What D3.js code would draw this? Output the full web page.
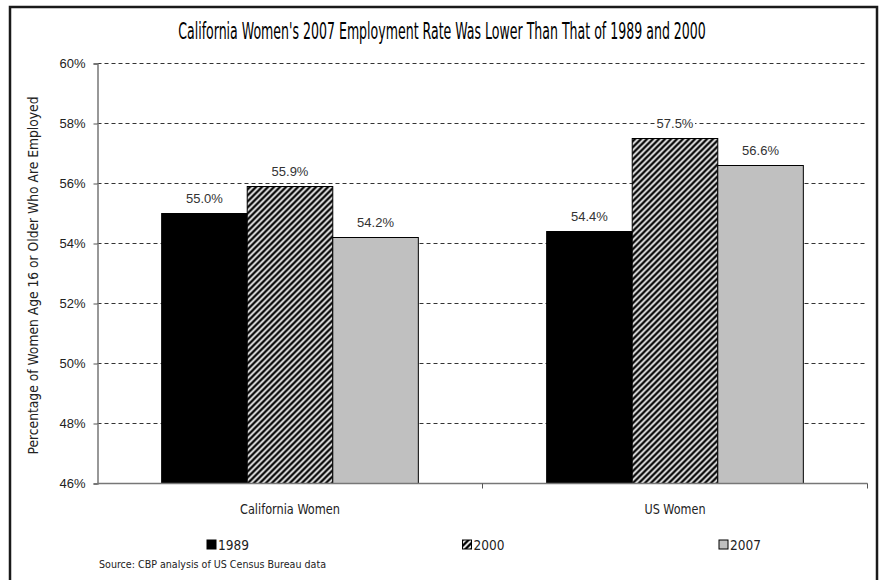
<!DOCTYPE html>
<html>
<head>
<meta charset="utf-8">
<script src="https://cdn.jsdelivr.net/npm/d3@7"></script>
<style>
  html, body { margin: 0; padding: 0; background: #fff; }
  svg { display: block; }
  text { font-family: "Liberation Sans", Arial, sans-serif; fill: #222; }
  text.narrow { font-family: "Liberation Sans Narrow", "DejaVu Sans Condensed", "Liberation Sans", Arial, sans-serif; }
</style>
</head>
<body>
<svg id="chart" width="881" height="580"></svg>
<script>
// Employment rate of women age 16+, by area and year
const categories = ["California Women", "US Women"];
const years = ["1989", "2000", "2007"];
const values1989 = [55.0, 54.4];
const values2000 = [55.9, 57.5];
const values2007 = [54.2, 56.6];
const yTicks = [46, 48, 50, 52, 54, 56, 58, 60];

const titleText = "California Women's 2007 Employment Rate Was Lower Than That of 1989 and 2000";
const yTitleText = "Percentage of Women Age 16 or Older Who Are Employed";
const sourceText = "Source: CBP analysis of US Census Bureau data";

const seriesByYear = { "1989": values1989, "2000": values2000, "2007": values2007 };

const svg = d3.select("#chart");
const margin = { left: 97.5, right: 13.5, top: 63.5, bottom: 96.5 };
const W = 881, H = 580;
const plotW = W - margin.left - margin.right;
const plotH = H - margin.top - margin.bottom;

// patterns
const defs = svg.append("defs");
const hatch = defs.append("pattern")
  .attr("id", "hatch")
  .attr("patternUnits", "userSpaceOnUse")
  .attr("width", 6).attr("height", 6);
hatch.append("rect").attr("width", 6).attr("height", 6).attr("fill", "#fff");
hatch.append("path")
  .attr("d", "M0,6 L6,0 M-1,1 L1,-1 M5,7 L7,5")
  .attr("stroke", "#000").attr("stroke-width", 2.4);

const fills = { "1989": "#000", "2000": "url(#hatch)", "2007": "#c0c0c0" };

// outer frame
svg.append("rect")
  .attr("x", 10).attr("y", 7).attr("width", 867).attr("height", 620)
  .attr("fill", "none").attr("stroke", "#1a1a1a").attr("stroke-width", 2.5);

// title: condensed face, scaled horizontally to its target width
const titleG = svg.append("g").attr("transform", "translate(442,39)");
const title = titleG.append("text")
  .attr("class", "narrow")
  .attr("text-anchor", "middle")
  .attr("font-size", 23)
  .style("fill", "#000")
  .text(titleText);
const natural = title.node().getComputedTextLength();
title.attr("transform", `scale(${528 / natural},1)`);

const g = svg.append("g").attr("transform", `translate(${margin.left},${margin.top})`);

const y = d3.scaleLinear().domain([46, 60]).range([plotH, 0]);
const x0 = d3.scaleBand().domain(categories).range([0, plotW]).padding(0);
const x1 = d3.scaleBand().domain(years).range([0, x0.bandwidth()]).paddingInner(0).paddingOuter(0.75);

// dashed gridlines
g.append("g")
  .selectAll("line")
  .data(yTicks.filter(d => d !== 46))
  .join("line")
  .attr("x1", 0).attr("x2", plotW)
  .attr("y1", d => y(d)).attr("y2", d => y(d))
  .attr("stroke", "#333").attr("stroke-width", 1)
  .attr("stroke-dasharray", "4,3");

// bars
const groups = g.selectAll("g.cat")
  .data(categories)
  .join("g")
  .attr("class", "cat")
  .attr("transform", d => `translate(${x0(d)},0)`);

const barData = (c, i) => years.map(yr => ({ year: yr, value: seriesByYear[yr][i] }));

groups.each(function(c, i) {
  const grp = d3.select(this);
  const data = barData(c, i);
  grp.selectAll("rect.bar")
    .data(data)
    .join("rect")
    .attr("class", "bar")
    .attr("x", d => x1(d.year))
    .attr("y", d => y(d.value))
    .attr("width", x1.bandwidth())
    .attr("height", d => plotH - y(d.value))
    .attr("fill", d => fills[d.year])
    .attr("stroke", "#000").attr("stroke-width", 1);

  const lab = grp.selectAll("g.lab")
    .data(data)
    .join("g")
    .attr("class", "lab")
    .attr("transform", d => `translate(${x1(d.year) + x1.bandwidth() / 2},${y(d.value) - 11})`);
  lab.append("rect")
    .attr("x", -20).attr("y", -12).attr("width", 40).attr("height", 15)
    .attr("fill", "#fff");
  lab.append("text")
    .attr("text-anchor", "middle")
    .attr("font-size", 13)
    .style("fill", "#333")
    .text(d => d.value.toFixed(1) + "%");
});

// y axis
const yAxis = g.append("g")
  .call(d3.axisLeft(y).tickValues(yTicks).tickSize(4).tickPadding(8).tickFormat(d => d + "%"));
yAxis.select(".domain").attr("stroke", "#777").attr("stroke-width", 1.5);
yAxis.selectAll(".tick line").attr("stroke", "#555");
yAxis.selectAll(".tick text")
  .attr("font-size", 13)
  .style("font-family", '"Liberation Sans", Arial, sans-serif')
  .style("fill", "#222");

// x axis: baseline with ticks at category boundaries
const xAxis = g.append("g").attr("transform", `translate(0,${plotH})`);
xAxis.append("line")
  .attr("x1", 0).attr("x2", plotW)
  .attr("stroke", "#777").attr("stroke-width", 1.5);
const bounds = categories.map(c => x0(c)).concat([plotW]).slice(1);
xAxis.selectAll("line.tick")
  .data(bounds)
  .join("line")
  .attr("class", "tick")
  .attr("x1", d => d).attr("x2", d => d)
  .attr("y1", 0).attr("y2", 5)
  .attr("stroke", "#555").attr("stroke-width", 1);
xAxis.selectAll("text.cat")
  .data(categories)
  .join("text")
  .attr("class", "cat narrow")
  .attr("x", d => x0(d) + x0.bandwidth() / 2)
  .attr("y", 30)
  .attr("text-anchor", "middle")
  .attr("font-size", 14)
  .attr("textLength", d => d === "US Women" ? 61 : 100)
  .attr("lengthAdjust", "spacingAndGlyphs")
  .text(d => d);

// y axis title
svg.append("text")
  .attr("class", "narrow")
  .attr("transform", `translate(38,${margin.top + plotH / 2 + 2}) rotate(-90)`)
  .attr("text-anchor", "middle")
  .attr("font-size", 14)
  .attr("textLength", 358).attr("lengthAdjust", "spacingAndGlyphs")
  .text(yTitleText);

// legend
const legendX = [207, 462.5, 719];
const legend = svg.selectAll("g.legend")
  .data(years)
  .join("g")
  .attr("class", "legend")
  .attr("transform", (d, i) => `translate(${legendX[i]},540)`);
legend.append("rect")
  .attr("width", 9).attr("height", 9)
  .attr("fill", d => fills[d])
  .attr("stroke", "#000").attr("stroke-width", 1);
legend.append("text")
  .attr("class", "narrow")
  .attr("x", 11).attr("y", 10)
  .attr("font-size", 14)
  .attr("textLength", 31).attr("lengthAdjust", "spacingAndGlyphs")
  .text(d => d);

// source note
svg.append("text")
  .attr("class", "narrow")
  .attr("x", 99).attr("y", 568)
  .attr("font-size", 11)
  .attr("textLength", 227).attr("lengthAdjust", "spacingAndGlyphs")
  .text(sourceText);
</script>
</body>
</html>
